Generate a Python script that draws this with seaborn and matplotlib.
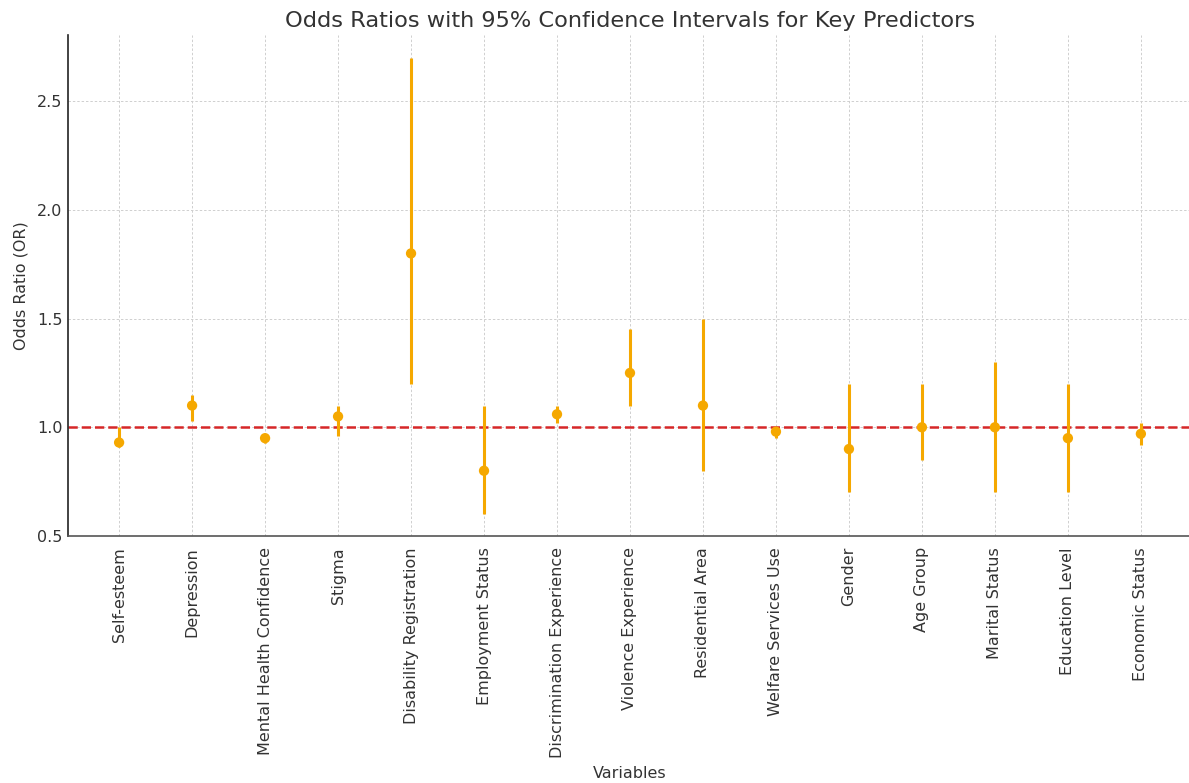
import matplotlib
matplotlib.use("Agg")
import matplotlib.pyplot as plt
import seaborn as sns
import pandas as pd

# Odds ratios and 95% CI
variables = ["Self-esteem", "Depression", "Mental Health Confidence", "Stigma",
             "Disability Registration", "Employment Status", "Discrimination Experience",
             "Violence Experience", "Residential Area", "Welfare Services Use",
             "Gender", "Age Group", "Marital Status", "Education Level", "Economic Status"]
odds_ratio = [0.93, 1.10, 0.95, 1.05, 1.80, 0.80, 1.06, 1.25, 1.10, 0.98,
              0.90, 1.00, 1.00, 0.95, 0.97]
ci_lower = [0.91, 1.03, 0.93, 0.96, 1.20, 0.60, 1.02, 1.10, 0.80, 0.95,
            0.70, 0.85, 0.70, 0.70, 0.92]
ci_upper = [1.00, 1.15, 0.97, 1.10, 2.70, 1.10, 1.10, 1.45, 1.50, 1.00,
            1.20, 1.20, 1.30, 1.20, 1.02]

df = pd.DataFrame({"Variable": variables, "OR": odds_ratio,
                   "Lower": ci_lower, "Upper": ci_upper})
df["pos"] = range(len(df))

sns.set_theme(style="white")
plt.rcParams["font.family"] = ["DejaVu Sans"]
text_color = "#333333"
point_color = "#F5A800"

fig = plt.figure(figsize=(11.89, 7.83), dpi=100)
ax = fig.add_axes([0.0572, 0.3155, 0.9453, 0.6398])

# confidence intervals
ax.vlines(df["pos"], df["Lower"], df["Upper"], color=point_color, linewidth=2.2, zorder=3)
# point estimates
sns.scatterplot(data=df, x="pos", y="OR", color=point_color, s=55,
                edgecolor="none", zorder=4, ax=ax)

ax.axhline(1.0, color="#D62728", linestyle="--", linewidth=1.8, zorder=2)

ax.margins(x=0.05)
ax.set_ylim(bottom=0.5)
ax.set_yticks([0.5, 1.0, 1.5, 2.0, 2.5])

ax.set_xticks(df["pos"])
ax.set_xticklabels(df["Variable"], rotation=90, fontsize=11.5, color=text_color)
ax.tick_params(axis="y", labelsize=11.5, labelcolor=text_color, length=0, pad=4)
ax.tick_params(axis="x", direction="in", length=4, color="#444444", pad=8)

ax.grid(True, linestyle=(0, (2.5, 2)), color="#cfcfcf", linewidth=0.7)
ax.set_axisbelow(True)

sns.despine(ax=ax)
ax.spines["left"].set_color("#222222")
ax.spines["left"].set_linewidth(1.2)
ax.spines["bottom"].set_color("#555555")
ax.spines["bottom"].set_linewidth(1.2)

ax.set_title("Odds Ratios with 95% Confidence Intervals for Key Predictors",
             fontsize=16.2, color=text_color, pad=6)
ax.set_xlabel("Variables", fontsize=11.5, color=text_color, labelpad=6)
ax.set_ylabel("Odds Ratio (OR)", fontsize=11.5, color=text_color, labelpad=6)

fig.savefig("out.png", dpi=100)
